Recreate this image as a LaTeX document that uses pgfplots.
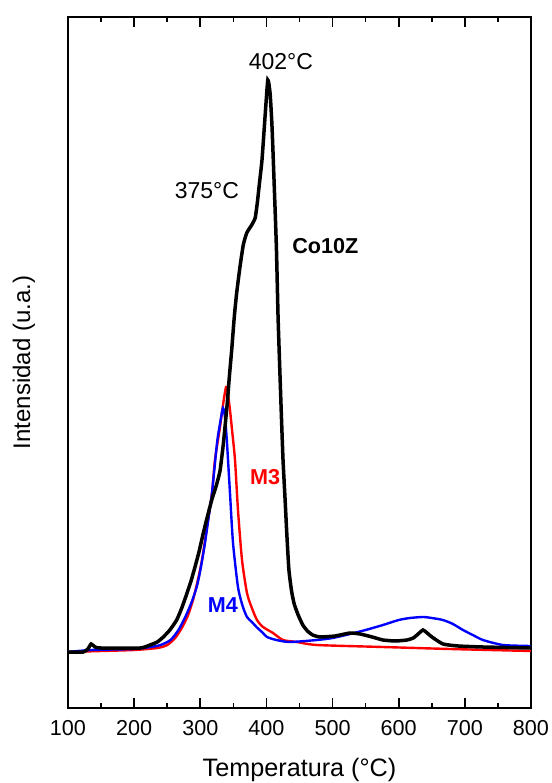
\documentclass[border=0pt]{standalone}
\usepackage{pgfplots}
\pgfplotsset{compat=1.18}
\usepackage{fontspec}
\setmainfont{Liberation Sans}
\begin{document}
\fontsize{10.8}{13}\selectfont
\begin{tikzpicture}
\begin{axis}[
  scale only axis,
  width=231.5pt, height=345.5pt,
  xmin=100, xmax=800, ymin=0, ymax=691,
  xtick={100,200,...,800},
  minor x tick num=1,
  ytick=\empty,
  minor ytick={57,150,243,337,430,523,617},
  tick align=inside,
  major tick length=5pt,
  minor tick length=2.5pt,
  axis line style={line width=1pt},
  every tick/.style={black, line width=0.8pt},
  /pgf/number format/assume math mode=true,
  /pgf/number format/1000 sep={},
  xticklabel style={font=\fontsize{10.8}{13}\selectfont, inner sep=0pt, yshift=-5.8pt},
  xlabel={Temperatura (°C)},
  ylabel={Intensidad (u.a.)},
  xlabel style={font=\fontsize{12.6}{15}\selectfont, inner sep=0pt, at={(axis description cs:0.5,-0.0897)}, anchor=center},
  ylabel style={font=\fontsize{12}{14}\selectfont, inner sep=0pt, at={(axis description cs:-0.095,0.5)}, anchor=center},
  clip=true,
]
% M3 (red)
\addplot[red, line width=1.2pt, smooth, tension=0.4] coordinates {
(100,56)(150,57)(200,58)(235,60)(250,63)(262,70)(272,80)(281,92)(289,108)(296,127)(302.6,148)(310.2,181)(317.7,215)(322.2,248)(329.8,281)(335,306)(338.9,321)(341,318)(344.9,298)(348.5,275)(352.5,248)(357,198)(363.1,148)(370.6,115)(378,100)(385.7,88)(394.8,81)(410,75)(425,68)(446.2,66)(476.5,63)(576,61)(677.5,59)(800,57)};
% M4 (blue)
\addplot[blue, line width=1.2pt, smooth, tension=0.4] coordinates {
(100,56)(135,58)(200,59)(225,61)(240,63)(255,68)(267,78)(278,92)(287,106)(295,122)(301,141)(307.1,165)(312,188)(317.7,215)(325.3,265)(330,285)(334.3,300)(337.5,290)(340.4,265)(344.9,215)(349.5,165)(357,121)(364,102)(370.6,91)(378,86)(385,81)(394.8,75)(400.9,71)(415,68)(435.6,66)(476.5,68)(500,70)(526.4,74)(550,78)(576.2,83)(600,88)(617,90)(636.7,91)(650,90)(666.9,88)(682,84)(697.2,78)(712,73)(727.4,68)(757.7,63)(800,62)};
% Co10Z (black)
\addplot[black, line width=1.75pt, smooth, tension=0.3] coordinates {
(100,56)(123,56)(130,59)(135,64)(141,61)(150,60)(208.9,60)(224,63)(235,66)(244.1,71)(254,78)(264.3,88)(272,100)(279.5,114)(286,127)(292,141)(298,156)(304.6,175)(311,192)(317.3,208)(324,222)(329.8,237)(335,265)(340.8,305)(343.9,331)(347.5,358)(351.4,391)(355,415)(360,441)(365,463)(370.2,475)(377.7,483)(383,490)(386.2,505)(389.5,525)(393.3,548)(398,592)(402.1,628)(405.5,615)(408.5,581)(412.6,508)(415.2,458)(417.6,391)(420.1,341)(422.7,291)(425.1,248)(428.1,210)(431,172)(434,138)(438,117)(442,104)(448,93)(455,83)(462,77)(470,73)(481,71)(503.6,72)(526.4,75)(541.5,74)(560,71)(576.2,68)(595,67)(612.5,68)(622,70)(627.7,73)(636.7,78)(643,75)(650.3,71)(666.9,64)(690,62)(727.4,61)(800,60)};
\node[font=\fontsize{11.5}{14}\selectfont] at (axis cs:422,646) {402°C};
\node[font=\fontsize{11.5}{14}\selectfont] at (axis cs:310,517) {375°C};
\node[font=\fontsize{10.8}{13}\selectfont\bfseries] at (axis cs:489,462) {Co10Z};
\node[font=\fontsize{10.8}{13}\selectfont\bfseries, text=red] at (axis cs:398,231) {M3};
\node[font=\fontsize{10.8}{13}\selectfont\bfseries, text=blue] at (axis cs:334,103) {M4};
\end{axis}
\path (current axis.south west) ++(-34pt,-37.5pt);
\path (current axis.north east) ++(10.5pt,8.5pt);
\end{tikzpicture}
\end{document}
